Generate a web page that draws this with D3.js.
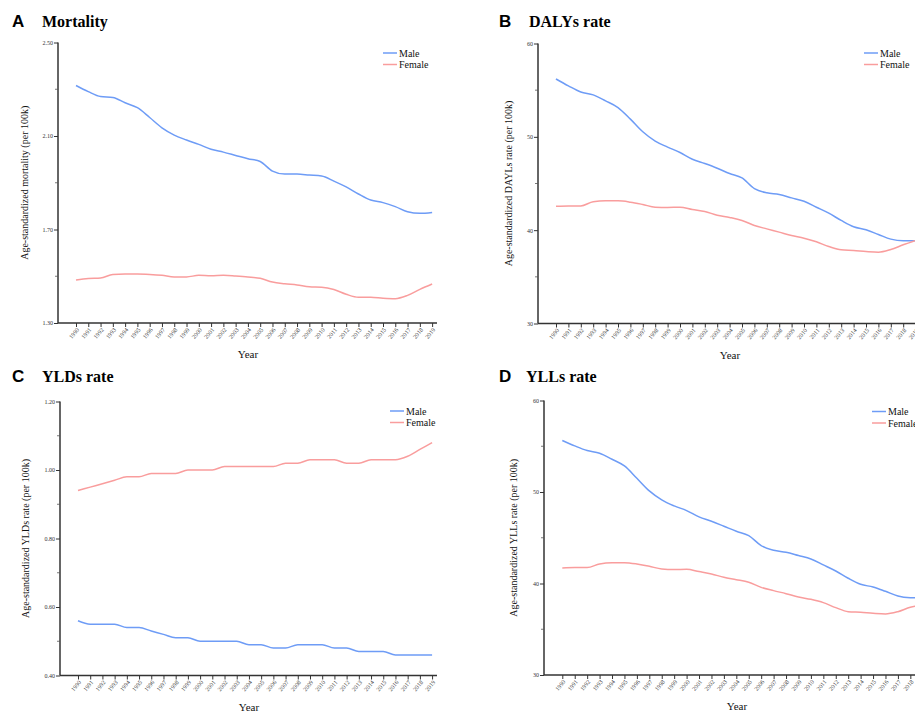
<!DOCTYPE html>
<html>
<head>
<meta charset="utf-8">
<script src="https://cdn.jsdelivr.net/npm/d3@7"></script>
<style>
  body { margin: 0; background: #fff; overflow: hidden; }
  svg { display: block; }
</style>
</head>
<body>
<div id="chart"></div>
<script>
// years on the x axis
var years = d3.range(1990, 2020);

// A - mortality
var mortalityMale = [2.316, 2.290, 2.269, 2.265, 2.242, 2.221, 2.179, 2.135, 2.104, 2.083,
    2.064, 2.043, 2.031, 2.017, 2.003, 1.991, 1.950, 1.937, 1.937, 1.933,
    1.929, 1.907, 1.882, 1.852, 1.826, 1.815, 1.798, 1.776, 1.769, 1.773];
var mortalityFemale = [1.484, 1.490, 1.492, 1.508, 1.510, 1.510, 1.508, 1.504, 1.497, 1.497,
    1.504, 1.502, 1.504, 1.501, 1.497, 1.491, 1.475, 1.468, 1.463, 1.455,
    1.453, 1.443, 1.423, 1.410, 1.410, 1.406, 1.404, 1.418, 1.444, 1.467];

// B - DALYs rate
var dalysMale = [56.2, 55.46, 54.8, 54.5, 53.86, 53.14, 51.9, 50.54, 49.54, 48.9,
    48.32, 47.6, 47.14, 46.64, 46.07, 45.6, 44.46, 44.0, 43.82, 43.46,
    43.1, 42.46, 41.82, 41.04, 40.36, 40.04, 39.54, 39.04, 38.86, 38.86];
var dalysFemale = [42.57, 42.6, 42.6, 43.04, 43.14, 43.14, 43.0, 42.75, 42.46, 42.43,
    42.46, 42.21, 42.0, 41.6, 41.36, 41.04, 40.5, 40.14, 39.79, 39.43,
    39.14, 38.75, 38.25, 37.89, 37.82, 37.71, 37.64, 37.93, 38.43, 38.89];

// C - YLDs rate
var yldsMale = [0.56, 0.55, 0.55, 0.55, 0.54, 0.54, 0.53, 0.52, 0.51, 0.51,
    0.50, 0.50, 0.50, 0.50, 0.49, 0.49, 0.48, 0.48, 0.49, 0.49,
    0.49, 0.48, 0.48, 0.47, 0.47, 0.47, 0.46, 0.46, 0.46, 0.46];
var yldsFemale = [0.94, 0.95, 0.96, 0.97, 0.98, 0.98, 0.99, 0.99, 0.99, 1.00,
    1.00, 1.00, 1.01, 1.01, 1.01, 1.01, 1.01, 1.02, 1.02, 1.03,
    1.03, 1.03, 1.02, 1.02, 1.03, 1.03, 1.03, 1.04, 1.06, 1.08];

// D - YLLs rate
var yllsMale = [55.63, 55.04, 54.53, 54.24, 53.58, 52.85, 51.5, 50.12, 49.14, 48.48,
    47.97, 47.28, 46.8, 46.26, 45.71, 45.24, 44.14, 43.63, 43.41, 43.05,
    42.68, 42.03, 41.37, 40.57, 39.91, 39.62, 39.15, 38.64, 38.45, 38.42];
var yllsFemale = [41.7, 41.74, 41.74, 42.14, 42.28, 42.28, 42.14, 41.88, 41.59, 41.52,
    41.55, 41.3, 41.04, 40.68, 40.42, 40.13, 39.58, 39.22, 38.89, 38.53,
    38.27, 37.91, 37.36, 36.92, 36.85, 36.74, 36.67, 36.92, 37.4, 37.65];

// y tick values (labelled) and minor ticks
var mortalityTicks = [1.3, 1.7, 2.1, 2.5];
var mortalityMinor = [1.5, 1.9, 2.3];
var rateTicks = [30, 40, 50, 60];
var rateMinor = [35, 45, 55];
var yldsTicks = [0.4, 0.6, 0.8, 1.0, 1.2];
var yldsMinor = [0.5, 0.7, 0.9, 1.1];

var seriesNames = ['Male', 'Female'];
var seriesColors = ['#6e9cf6', '#f99d9d'];

var serif = '"Liberation Serif", "Times New Roman", "DejaVu Serif", serif';
var sans = '"Liberation Sans", Arial, sans-serif';

var svgWidth = 915;
var svgHeight = 714;

var svg = d3.select('#chart')
    .append('svg')
    .attr('width', svgWidth)
    .attr('height', svgHeight);

// panel layouts (pixel geometry only)
var panels = [
    { letter: 'A', title: 'Mortality', male: mortalityMale, female: mortalityFemale,
      domain: [1.3, 2.5], ticks: mortalityTicks, minor: mortalityMinor, fmt: '.2f',
      ylabel: 'Age-standardized mortality (per 100k)',
      left: 58, top: 42.5, bottom: 323, x0: 76, step: 12.28, axisEnd: 437,
      letterX: 12, titleX: 42, titleY: 27, legendX: 383, legendY: 53,
      ylabelX: 28, yearX: 248 },
    { letter: 'B', title: 'DALYs rate', male: dalysMale, female: dalysFemale,
      domain: [30, 60], ticks: rateTicks, minor: rateMinor, fmt: 'd',
      ylabel: 'Age-standardized DAYLs rate (per 100k)',
      left: 538, top: 43.5, bottom: 323.5, x0: 556, step: 12.4, axisEnd: 930,
      letterX: 499, titleX: 529, titleY: 27, legendX: 864, legendY: 53,
      ylabelX: 512, yearX: 730 },
    { letter: 'C', title: 'YLDs rate', male: yldsMale, female: yldsFemale,
      domain: [0.4, 1.2], ticks: yldsTicks, minor: yldsMinor, fmt: '.2f',
      ylabel: 'Age-standardized YLDs rate (per 100k)',
      left: 60, top: 401.5, bottom: 675.5, x0: 78, step: 12.21, axisEnd: 437,
      letterX: 12, titleX: 42, titleY: 382, legendX: 390, legendY: 411,
      ylabelX: 29, yearX: 249 },
    { letter: 'D', title: 'YLLs rate', male: yllsMale, female: yllsFemale,
      domain: [30, 60], ticks: rateTicks, minor: rateMinor, fmt: 'd',
      ylabel: 'Age-standardized YLLs rate (per 100k)',
      left: 544, top: 400.5, bottom: 675, x0: 562.3, step: 12.43, axisEnd: 930,
      letterX: 499, titleX: 526, titleY: 382, legendX: 872, legendY: 411.5,
      ylabelX: 517, yearX: 737 }
];

panels.forEach(function (p) {
    var g = svg.append('g');

    var xScale = d3.scalePoint()
        .domain(years)
        .range([p.x0, p.x0 + p.step * (years.length - 1)]);

    var yScale = d3.scaleLinear()
        .domain(p.domain)
        .range([p.bottom, p.top]);

    // titles
    g.append('text')
        .style('font-family', sans)
        .style('font-weight', 'bold')
        .style('font-size', '17px')
        .attr('x', p.letterX)
        .attr('y', p.titleY)
        .text(p.letter);
    g.append('text')
        .style('font-family', serif)
        .style('font-weight', 'bold')
        .style('font-size', '16px')
        .attr('x', p.titleX)
        .attr('y', p.titleY)
        .text(p.title);

    // y axis
    var leftAxis = d3.axisLeft(yScale)
        .tickValues(p.ticks)
        .tickFormat(d3.format(p.fmt))
        .tickSize(4)
        .tickSizeOuter(0);
    var yAxisG = g.append('g')
        .attr('transform', `translate(${p.left},0)`)
        .call(leftAxis);
    yAxisG.select('.domain')
        .attr('stroke', '#333')
        .attr('stroke-width', 1.5)
        .attr('d', `M0,${p.top}V${p.bottom}`);
    yAxisG.selectAll('.tick line').attr('stroke', '#333');
    yAxisG.selectAll('.tick text')
        .attr('x', -5)
        .attr('fill', '#333')
        .style('font-family', serif)
        .style('font-size', '6px');
    // minor ticks
    g.append('g')
        .selectAll('line')
        .data(p.minor)
        .enter()
        .append('line')
        .attr('x1', p.left - 3)
        .attr('x2', p.left)
        .attr('y1', d => yScale(d))
        .attr('y2', d => yScale(d))
        .attr('stroke', '#555')
        .attr('stroke-width', 0.8);

    // x axis
    var bottomAxis = d3.axisBottom(xScale)
        .tickSize(4)
        .tickSizeOuter(0);
    var xAxisG = g.append('g')
        .attr('transform', `translate(0,${p.bottom})`)
        .call(bottomAxis);
    xAxisG.select('.domain')
        .attr('stroke', '#333')
        .attr('stroke-width', 1.5)
        .attr('d', `M${p.left},0H${p.axisEnd}`);
    xAxisG.selectAll('.tick line').attr('stroke', '#333');
    xAxisG.selectAll('.tick text')
        .attr('fill', '#333')
        .style('font-family', serif)
        .style('font-size', '6px')
        .attr('text-anchor', 'end')
        .attr('dy', null)
        .attr('y', 0)
        .attr('x', 0)
        .attr('transform', 'translate(3,7) rotate(-50)');

    // axis titles
    g.append('text')
        .style('font-family', serif)
        .style('font-size', '10px')
        .attr('fill', '#111')
        .attr('text-anchor', 'middle')
        .attr('transform', `translate(${p.ylabelX},${(p.top + p.bottom) / 2}) rotate(-90)`)
        .text(p.ylabel);
    g.append('text')
        .style('font-family', serif)
        .style('font-size', '11px')
        .attr('fill', '#111')
        .attr('text-anchor', 'middle')
        .attr('x', p.yearX)
        .attr('y', p.bottom + 35)
        .text('Year');

    // lines
    var line = d3.line()
        .x((d, i) => xScale(years[i]))
        .y(d => yScale(d))
        .curve(d3.curveMonotoneX);

    [p.male, p.female].forEach(function (values, i) {
        g.append('path')
            .datum(values)
            .attr('fill', 'none')
            .attr('stroke', seriesColors[i])
            .attr('stroke-width', 1.5)
            .attr('d', line);
    });

    // legend
    var legend = g.append('g')
        .attr('transform', `translate(${p.legendX},${p.legendY})`);
    seriesNames.forEach(function (name, i) {
        legend.append('line')
            .attr('x1', 0)
            .attr('x2', 14)
            .attr('y1', i * 11.5)
            .attr('y2', i * 11.5)
            .attr('stroke', seriesColors[i])
            .attr('stroke-width', 1.5);
        legend.append('text')
            .style('font-family', serif)
            .style('font-size', '10px')
            .attr('fill', '#111')
            .attr('x', 16)
            .attr('y', i * 11.5)
            .attr('dy', '0.35em')
            .text(name);
    });
});
</script>
</body>
</html>
